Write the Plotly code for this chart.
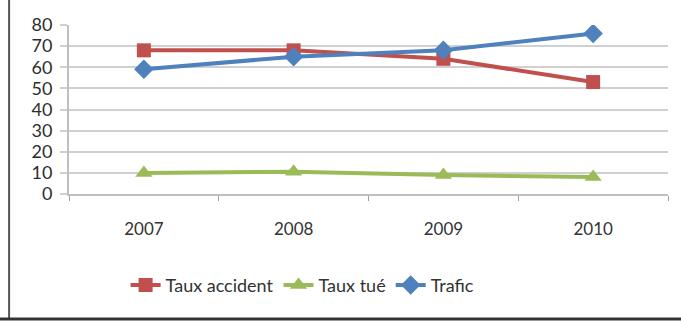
import plotly.graph_objects as go

# Series data
years = ["2007", "2008", "2009", "2010"]
taux_accident = [68, 68, 64, 53]
taux_tue = [10, 10.5, 9, 8]
trafic = [59, 65, 68, 76]

series_names = ["Taux accident", "Taux tué", "Trafic"]
series_colors = ["#C0504D", "#9BBB59", "#4F81BD"]
series_symbols = ["square", "triangle-up", "diamond"]
y_ticks = [0, 10, 20, 30, 40, 50, 60, 70, 80]

fig = go.Figure()
for name, values, color, symbol in zip(
    series_names, [taux_accident, taux_tue, trafic], series_colors, series_symbols
):
    fig.add_trace(
        go.Scatter(
            x=years,
            y=values,
            name=name,
            mode="lines+markers",
            line=dict(color=color, width=4),
            marker=dict(symbol=symbol, size=15 if symbol != "square" else 14, color=color),
        )
    )

font_family = "Lato, 'Open Sans', sans-serif"

fig.update_layout(
    width=681,
    height=321,
    margin=dict(l=69, r=13, t=25, b=127),
    paper_bgcolor="white",
    plot_bgcolor="white",
    font=dict(family=font_family, color="#333333", size=15),
    showlegend=True,
    legend=dict(
        orientation="h",
        x=0.39,
        xanchor="center",
        y=-0.54,
        yanchor="middle",
        font=dict(size=18, color="#333333"),
        itemwidth=30,
        traceorder="normal",
    ),
    xaxis=dict(
        type="category",
        range=[-0.5, 3.5],
        showgrid=False,
        showline=True,
        linecolor="#bfbfbf",
        linewidth=2,
        ticks="outside",
        tickson="boundaries",
        ticklen=5,
        tickcolor="#a0a0a0",
        ticklabelstandoff=19,
        tickfont=dict(size=17, color="#333333"),
        fixedrange=True,
    ),
    yaxis=dict(
        range=[0, 80],
        tickvals=y_ticks,
        showgrid=True,
        gridcolor="#d0d0d0",
        gridwidth=2,
        showline=True,
        linecolor="#bfbfbf",
        linewidth=2,
        ticks="outside",
        ticklen=7,
        tickcolor="#d0d0d0",
        tickwidth=2,
        ticklabelstandoff=4,
        zeroline=False,
        tickfont=dict(size=18, color="#2e2e2e"),
        fixedrange=True,
    ),
    shapes=[
        # outer frame: left and bottom edges
        dict(type="line", xref="paper", yref="paper", x0=-0.1, x1=-0.1, y0=1.2, y1=-0.74,
             line=dict(color="#555555", width=2)),
        dict(type="line", xref="paper", yref="paper", x0=-0.12, x1=1.03, y0=-0.74, y1=-0.74,
             line=dict(color="#333333", width=3)),
    ],
)

fig.write_html("out.html")
